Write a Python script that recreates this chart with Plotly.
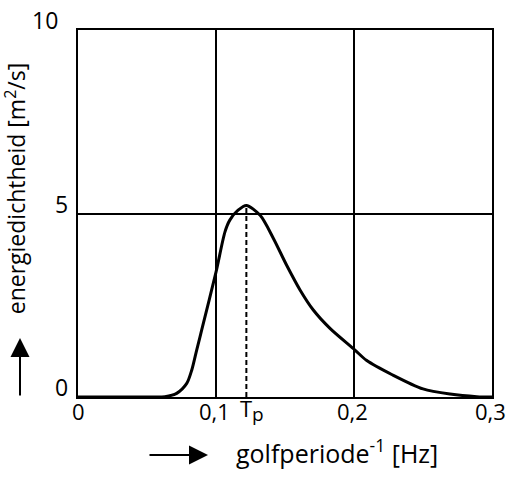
import plotly.graph_objects as go

# --- data ---
freq = [0, 0.055, 0.063, 0.0715, 0.0788, 0.0824, 0.086, 0.0896, 0.1, 0.1065,
        0.110, 0.116, 0.122, 0.132, 0.1416, 0.1512, 0.161, 0.1705, 0.1826,
        0.2007, 0.209, 0.228, 0.25, 0.2696, 0.289, 0.3]
energy = [0, 0, 0.01, 0.1, 0.37, 0.73, 1.28, 1.82, 3.4, 4.5,
          4.82, 5.09, 5.22, 4.95, 4.32, 3.59, 2.91, 2.37, 1.87,
          1.28, 1.0, 0.6, 0.22, 0.08, 0.01, 0]
peak_freq = 0.122
peak_energy = 5.22
x_ticks = [0, 0.1, 0.2, 0.3]
x_tick_labels = ["0", "0,1", "0,2", "0,3"]
y_ticks = [0, 5, 10]
y_tick_labels = ["0", "5", "10"]

FONT = "Open Sans"
W, H = 511, 484
L, R, T, B = 78, 19, 29.5, 87
pw, ph = W - L - R, H - T - B

def px_to_paper_x(px):
    return (px - L) / pw

def px_to_paper_y(py):
    return (H - B - py) / ph

fig = go.Figure()

# dashed line at peak
fig.add_trace(go.Scatter(x=[peak_freq, peak_freq], y=[0, peak_energy], mode="lines",
                         line=dict(color="black", width=2, dash="5px,3px"),
                         hoverinfo="skip", showlegend=False))
# spectrum
fig.add_trace(go.Scatter(x=freq, y=energy, mode="lines",
                         line=dict(color="black", width=3, shape="spline", smoothing=0.8),
                         showlegend=False))

fig.update_xaxes(range=[0, 0.3], tickvals=x_ticks, ticktext=[""] * len(x_ticks),
                 showgrid=True, gridcolor="black", gridwidth=2,
                 showline=True, linecolor="black", linewidth=2, mirror=True,
                 zeroline=False, ticks="")
fig.update_yaxes(range=[0, 10], tickvals=y_ticks, ticktext=[""] * len(y_ticks),
                 showgrid=True, gridcolor="black", gridwidth=1.5,
                 showline=True, linecolor="black", linewidth=2, mirror=True,
                 zeroline=False, ticks="")

# x tick labels
for v, lab in zip(x_ticks, x_tick_labels):
    fig.add_annotation(x=v, xref="x", y=0, yref="paper", text=lab, showarrow=False,
                       xanchor="center", yanchor="middle", xshift=-2 if v > 0 else 0,
                       yshift=-14,
                       font=dict(family=FONT, size=22, color="black"))

# y tick labels (sit above their gridlines)
for v, lab in zip(y_ticks, y_tick_labels):
    fig.add_annotation(x=0, xref="paper", y=v, yref="y", text=lab, showarrow=False,
                       xanchor="right", yanchor="middle",
                       xshift=-18 if len(lab) > 1 else -8, yshift=10,
                       font=dict(family=FONT, size=23, color="black"))

# Tp label
fig.add_annotation(x=peak_freq, y=0, xref="x", yref="paper", text="T",
                   showarrow=False, xanchor="center", yanchor="top", yshift=6,
                   font=dict(family=FONT, size=22, color="black"))
fig.add_annotation(x=peak_freq, y=0, xref="x", yref="paper", text="p",
                   showarrow=False, xanchor="left", yanchor="top", xshift=4, yshift=-2,
                   font=dict(family=FONT, size=19, color="black"))

# y-axis title
fig.add_annotation(x=px_to_paper_x(16), y=px_to_paper_y(188), xref="paper", yref="paper",
                   text="energiedichtheid [m<sup>2</sup>/s]", textangle=-90,
                   showarrow=False, xanchor="center", yanchor="middle",
                   font=dict(family=FONT, size=23, color="black"))
# x-axis title
fig.add_annotation(x=px_to_paper_x(234), y=px_to_paper_y(452), xref="paper", yref="paper",
                   text="golfperiode<sup>-1</sup> [Hz]",
                   showarrow=False, xanchor="left", yanchor="middle",
                   font=dict(family=FONT, size=25, color="black"))

# arrows
fig.add_annotation(x=px_to_paper_x(20), y=px_to_paper_y(338), xref="paper", yref="paper",
                   ax=0, ay=59, text="", showarrow=True, arrowhead=2, arrowsize=1.9,
                   arrowwidth=2, arrowcolor="black")
fig.add_annotation(x=px_to_paper_x(208), y=px_to_paper_y(455), xref="paper", yref="paper",
                   ax=-60, ay=0, text="", showarrow=True, arrowhead=2, arrowsize=1.9,
                   arrowwidth=2, arrowcolor="black")

fig.update_layout(width=W, height=H, margin=dict(l=L, r=R, t=T, b=B),
                  plot_bgcolor="white", paper_bgcolor="white",
                  font=dict(family=FONT, color="black"))

fig.write_html("out.html", config={"displayModeBar": False},
               post_script="document.body.style.margin='0';document.body.style.overflow='hidden';")
